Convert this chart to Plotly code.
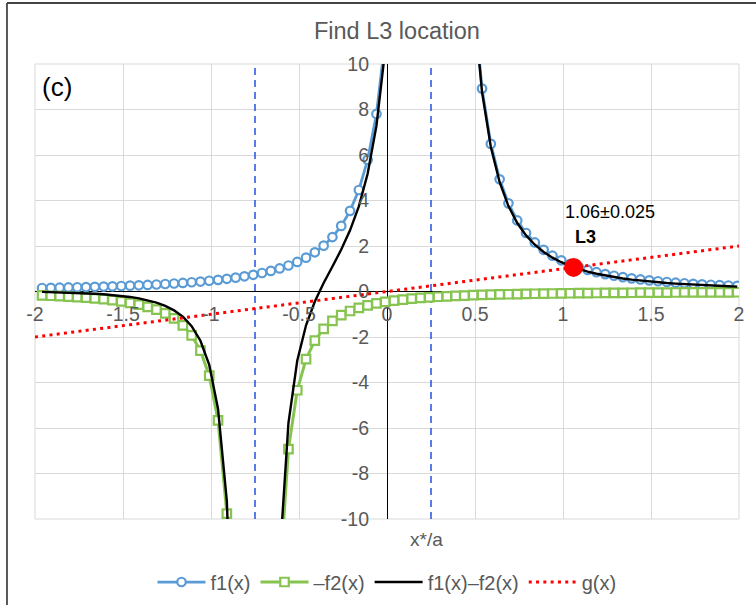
import plotly.graph_objects as go

# ---------------- data ----------------
x_vals = [-1.96, -1.91, -1.86, -1.81, -1.76, -1.71, -1.66, -1.61, -1.56, -1.51,
          -1.46, -1.41, -1.36, -1.31, -1.26, -1.21, -1.16, -1.11, -1.06, -1.01,
          -0.96, -0.91, -0.86, -0.81, -0.76, -0.71, -0.66, -0.61, -0.56, -0.51,
          -0.46, -0.41, -0.36, -0.31, -0.26, -0.21, -0.16, -0.11, -0.06, -0.01,
          0.04, 0.09, 0.14, 0.19, 0.24, 0.29, 0.34, 0.39, 0.44, 0.49,
          0.54, 0.59, 0.64, 0.69, 0.74, 0.79, 0.84, 0.89, 0.94, 0.99,
          1.04, 1.09, 1.14, 1.19, 1.24, 1.29, 1.34, 1.39, 1.44, 1.49,
          1.54, 1.59, 1.64, 1.69, 1.74, 1.79, 1.84, 1.89, 1.94, 1.99]

f1_vals = [0.154, 0.161, 0.168, 0.177, 0.186, 0.195, 0.206, 0.217, 0.229, 0.242,
           0.257, 0.272, 0.289, 0.308, 0.329, 0.352, 0.377, 0.406, 0.437, 0.472,
           0.512, 0.557, 0.609, 0.668, 0.735, 0.814, 0.906, 1.014, 1.143, 1.299,
           1.488, 1.722, 2.016, 2.392, 2.884, 3.544, 4.462, 5.787, 7.804, 11.095,
           17.007, 29.297, 61.983, 208.333, 7500.0, 468.75, 92.593, 38.265, 20.776, 13.021,
           8.918, 6.488, 4.931, 3.874, 3.124, 2.572, 2.155, 1.831, 1.575, 1.370,
           1.202, 1.063, 0.947, 0.849, 0.765, 0.693, 0.631, 0.577, 0.530, 0.488,
           0.451, 0.418, 0.388, 0.362, 0.338, 0.316, 0.297, 0.279, 0.263, 0.248]

neg_f2_vals = [-0.171, -0.186, -0.203, -0.223, -0.245, -0.271, -0.302, -0.338, -0.381, -0.433,
               -0.496, -0.574, -0.672, -0.797, -0.961, -1.182, -1.487, -1.929, -2.602, -3.698,
               -5.669, -9.766, -20.661, -69.444, -2500.0, -156.25, -30.864, -12.755, -6.925, -4.340,
               -2.973, -2.163, -1.644, -1.291, -1.041, -0.857, -0.718, -0.610, -0.525, -0.457,
               -0.401, -0.354, -0.316, -0.283, -0.255, -0.231, -0.210, -0.192, -0.177, -0.163,
               -0.150, -0.139, -0.129, -0.121, -0.113, -0.105, -0.099, -0.093, -0.088, -0.083,
               -0.078, -0.074, -0.070, -0.066, -0.063, -0.060, -0.057, -0.055, -0.052, -0.050,
               -0.048, -0.046, -0.044, -0.042, -0.040, -0.039, -0.037, -0.036, -0.035, -0.033]

diff_vals = [-0.017, -0.025, -0.034, -0.046, -0.060, -0.076, -0.096, -0.121, -0.152, -0.191,
             -0.239, -0.302, -0.383, -0.489, -0.632, -0.830, -1.110, -1.524, -2.165, -3.226,
             -5.157, -9.208, -20.052, -68.777, -2499.26, -155.44, -29.958, -11.741, -5.782, -3.042,
             -1.485, -0.441, 0.372, 1.100, 1.842, 2.687, 3.743, 5.177, 7.279, 10.638,
             16.606, 28.942, 61.667, 208.05, 7499.7, 468.52, 92.382, 38.073, 20.599, 12.858,
             8.768, 6.349, 4.802, 3.753, 3.011, 2.467, 2.056, 1.738, 1.488, 1.287,
             1.124, 0.989, 0.877, 0.782, 0.702, 0.633, 0.574, 0.523, 0.478, 0.438,
             0.403, 0.372, 0.344, 0.320, 0.298, 0.277, 0.259, 0.243, 0.228, 0.214]

g_x = [-2.0, 2.0]
g_y = [-2.0, 2.0]

mass_positions = [-0.75, 0.25]     # dashed vertical markers
L3_x = [1.06]
L3_y = [1.06]
L3_value_text = "1.06±0.025"
L3_name = "L3"

x_ticks = [-2, -1.5, -1, -0.5, 0, 0.5, 1, 1.5, 2]
x_tick_text = ["-2", "-1.5", "-1", "-0.5", "0", "0.5", "1", "1.5", "2"]
y_ticks = [-10, -8, -6, -4, -2, 0, 2, 4, 6, 8, 10]
y_tick_text = ["-10", "-8", "-6", "-4", "-2", "0", "2", "4", "6", "8", "10"]

series_names = ["f1(x)", "\u2013f2(x)", "f1(x)\u2013f2(x)", "g(x)"]
chart_title = "Find L3 location"
panel_label = "(c)"
x_title = "x*/a"

# ---------------- styling ----------------
FONT = "Liberation Sans, Arial, sans-serif"
GRAY = "#595959"
BLUE = "#5B9BD5"
GREEN = "#86C44F"
RED = "#FF0000"
GRID = "#D9D9D9"

fig = go.Figure()

# dashed vertical lines
for xv in mass_positions:
    fig.add_trace(go.Scatter(x=[xv, xv], y=[y_ticks[0], y_ticks[-1]], mode="lines",
                             line=dict(color="#2450E6", width=1.5, dash="7px,5px"),
                             showlegend=False, hoverinfo="skip"))

fig.add_trace(go.Scatter(x=x_vals, y=f1_vals, name=series_names[0], mode="lines+markers",
                         line=dict(color=BLUE, width=2.75),
                         marker=dict(symbol="circle", size=8.5, color="white",
                                     line=dict(color=BLUE, width=2.2))))
fig.add_trace(go.Scatter(x=x_vals, y=neg_f2_vals, name=series_names[1], mode="lines+markers",
                         line=dict(color=GREEN, width=3),
                         marker=dict(symbol="square", size=8.5, color="white",
                                     line=dict(color=GREEN, width=2.2))))
fig.add_trace(go.Scatter(x=x_vals, y=diff_vals, name=series_names[2], mode="lines",
                         line=dict(color="black", width=2.4)))
fig.add_trace(go.Scatter(x=g_x, y=g_y, name=series_names[3], mode="lines",
                         line=dict(color=RED, width=3, dash="3px,4.3px")))
fig.add_trace(go.Scatter(x=L3_x, y=L3_y, mode="markers", showlegend=False,
                         marker=dict(color=RED, size=19, line=dict(width=0))))

# annotations
fig.add_annotation(x=L3_x[0] + 0.207, y=3.49, xref="x", yref="y", text=L3_value_text,
                   xanchor="center", yanchor="middle",
                   showarrow=False, font=dict(family=FONT, size=18, color="black"))
fig.add_annotation(x=L3_x[0] + 0.07, y=2.4, xref="x", yref="y", text="<b>" + L3_name + "</b>",
                   xanchor="center", yanchor="middle",
                   showarrow=False, font=dict(family=FONT, size=18, color="black"))
fig.add_annotation(x=0.031, y=0.949, xref="paper", yref="paper", text=panel_label,
                   xanchor="center", yanchor="middle",
                   showarrow=False, font=dict(family=FONT, size=26, color="black"))
fig.add_annotation(x=0.227, y=-0.046, xref="x", yref="paper", text=x_title,
                   xanchor="center", yanchor="middle",
                   showarrow=False, font=dict(family=FONT, size=19, color=GRAY))

# outer frame of the chart
fig.add_shape(type="line", xref="paper", yref="paper", x0=-0.0398, x1=-0.0398, y0=1.134, y1=-0.2,
              line=dict(color="#222222", width=1.5))
fig.add_shape(type="line", xref="paper", yref="paper", x0=-0.0398, x1=1.05, y0=1.134, y1=1.134,
              line=dict(color="#444444", width=2))
# plot-area border (outer gridlines)
fig.add_shape(type="rect", xref="paper", yref="paper", x0=0, x1=1, y0=0, y1=1,
              line=dict(color=GRID, width=1), layer="below")

fig.update_layout(
    width=756, height=605, autosize=False,
    margin=dict(l=35, r=17, t=64, b=86),
    paper_bgcolor="white", plot_bgcolor="white",
    font=dict(family=FONT, color=GRAY),
    title=dict(text=chart_title, x=0.525, xanchor="center", y=0.949, yanchor="middle",
               font=dict(family=FONT, size=23.5, color=GRAY)),
    legend=dict(orientation="h", x=0.5, xanchor="center",
                yref="container", y=1 - 582 / 605, yanchor="middle",
                font=dict(family=FONT, size=20, color=GRAY), itemwidth=48,
                bgcolor="rgba(0,0,0,0)"),
    xaxis=dict(range=[-2, 2], tickvals=x_ticks, ticktext=x_tick_text,
               showgrid=True, gridcolor=GRID, gridwidth=1,
               zeroline=True, zerolinecolor="black", zerolinewidth=1,
               showline=False, ticks="", anchor="free", position=0.5,
               automargin=False, ticklabelstandoff=9,
               tickfont=dict(family=FONT, size=19.5, color=GRAY)),
    yaxis=dict(range=[-10, 10], tickvals=y_ticks, ticktext=y_tick_text,
               showgrid=True, gridcolor=GRID, gridwidth=1,
               zeroline=True, zerolinecolor="black", zerolinewidth=1,
               showline=False, ticks="", anchor="free", position=0.5,
               automargin=False, ticklabelstandoff=18,
               tickfont=dict(family=FONT, size=19.5, color=GRAY)),
)

fig.write_html("out.html", config={"displayModeBar": False},
               post_script="document.body.style.margin='0';document.body.style.padding='0';")
